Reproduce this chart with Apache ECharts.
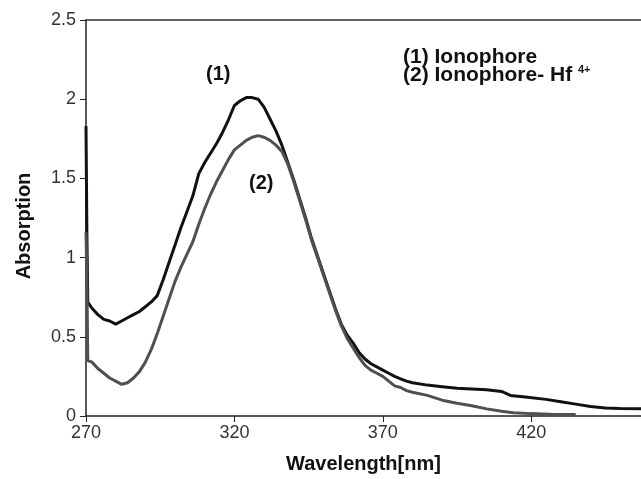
<!DOCTYPE html>
<html>
<head>
<meta charset="utf-8">
<script src="https://cdn.jsdelivr.net/npm/echarts@6/dist/echarts.min.js"></script>
<style>
  html, body { margin: 0; padding: 0; background: #fff; }
  #chart { width: 641px; height: 479px; }
</style>
</head>
<body>
<div id="chart"></div>
<script>
// curve (1) Ionophore
const wl1 = [270, 270.3, 270.6, 272, 274, 276, 278, 280, 282, 284, 286, 288, 290, 292, 294, 296, 298, 300,
  302, 304, 306, 308, 310, 312, 314, 316, 318, 320, 322, 324, 326, 328, 330, 332, 334, 336, 338, 340,
  342, 344, 346, 348, 350, 352, 354, 356, 358, 360, 362, 364, 366, 368, 370, 372, 374, 376, 378, 380,
  385, 390, 395, 400, 405, 410, 413, 418, 425, 430, 435, 440, 445, 450, 457]
const abs1 = [1.83, 1.15, 0.72, 0.68, 0.64, 0.61, 0.60, 0.58, 0.60, 0.62, 0.64, 0.66, 0.69, 0.72, 0.76, 0.86, 0.97, 1.08,
  1.19, 1.29, 1.39, 1.53, 1.60, 1.66, 1.72, 1.79, 1.87, 1.96, 1.99, 2.01, 2.01, 2.00, 1.95, 1.875, 1.80, 1.71, 1.60, 1.49,
  1.37, 1.25, 1.12, 1.01, 0.90, 0.79, 0.68, 0.58, 0.51, 0.46, 0.40, 0.36, 0.33, 0.31, 0.29, 0.27, 0.25, 0.235, 0.22, 0.21,
  0.195, 0.185, 0.175, 0.17, 0.165, 0.155, 0.13, 0.12, 0.105, 0.09, 0.075, 0.06, 0.05, 0.047, 0.045]

// curve (2) Ionophore- Hf4+
const wl2 = [270, 270.3, 270.6, 272, 274, 276, 278, 280, 282, 284, 286, 288, 290, 292, 294, 296, 298, 300,
  302, 304, 306, 308, 310, 312, 314, 316, 318, 320, 322, 324, 326, 328, 330, 332, 334, 336, 338, 340,
  342, 344, 346, 348, 350, 352, 354, 356, 358, 360, 362, 364, 366, 368, 370, 372, 374, 376, 378, 380,
  385, 390, 395, 400, 405, 410, 414, 420, 428, 435]
const abs2 = [1.16, 0.86, 0.35, 0.34, 0.30, 0.27, 0.24, 0.22, 0.20, 0.21, 0.24, 0.28, 0.34, 0.42, 0.52, 0.63, 0.74, 0.85,
  0.94, 1.02, 1.10, 1.21, 1.31, 1.40, 1.48, 1.55, 1.62, 1.68, 1.71, 1.74, 1.76, 1.77, 1.76, 1.74, 1.71, 1.67, 1.59, 1.48,
  1.36, 1.24, 1.11, 1.00, 0.89, 0.78, 0.67, 0.57, 0.49, 0.43, 0.37, 0.32, 0.29, 0.27, 0.25, 0.22, 0.19, 0.18, 0.16, 0.15,
  0.13, 0.10, 0.08, 0.065, 0.045, 0.03, 0.02, 0.015, 0.01, 0.01]

const xMin = 270, xMax = 457, xStep = 50
const yMin = 0, yMax = 2.5, yStep = 0.5

const FONT = 'Arial, "Liberation Sans", sans-serif'
const pairs = (xs, ys) => xs.map((x, i) => [x, ys[i]])

const chart = echarts.init(document.getElementById('chart'))
chart.setOption({
  animation: false,
  backgroundColor: '#fff',
  grid: { left: 86, right: 0, top: 20, bottom: 59 },
  xAxis: [{
    type: 'value',
    min: xMin,
    max: xMax,
    interval: xStep,
    name: 'Wavelength[nm]',
    nameLocation: 'middle',
    nameGap: 38,
    nameTextStyle: { fontFamily: FONT, fontWeight: 'bold', fontSize: 20, color: '#111' },
    splitLine: { show: false },
    axisLine: { lineStyle: { color: '#222', width: 1.5 } },
    axisTick: { length: 6, lineStyle: { color: '#222' } },
    axisLabel: { showMaxLabel: false, fontFamily: FONT, fontSize: 18, color: '#333', margin: 8 },
  }, {
    // top frame line
    type: 'value',
    position: 'top',
    min: xMin,
    max: xMax,
    axisLine: { show: true, lineStyle: { color: '#333', width: 1.5 } },
    axisTick: { show: false },
    axisLabel: { show: false },
    splitLine: { show: false },
  }],
  yAxis: {
    type: 'value',
    min: yMin,
    max: yMax,
    interval: yStep,
    name: 'Absorption',
    nameLocation: 'middle',
    nameGap: 52,
    // shifts the rotated name a little below the middle
    nameTextStyle: { fontFamily: FONT, fontWeight: 'bold', fontSize: 20, color: '#111', padding: [0, 16, 0, 0] },
    splitLine: { show: false },
    axisLine: { show: true, lineStyle: { color: '#222', width: 1.5 } },
    axisTick: { show: true, length: 6, lineStyle: { color: '#222' } },
    axisLabel: { fontFamily: FONT, fontSize: 18, color: '#333', margin: 10 },
  },
  graphic: [
    { type: 'text', left: 403, top: 47, style: { text: '(1) Ionophore', font: 'bold 21px ' + FONT, fill: '#111' } },
    { type: 'text', left: 403, top: 65, style: { text: '(2) Ionophore- Hf', font: 'bold 21px ' + FONT, fill: '#111' } },
    { type: 'text', left: 578, top: 64, style: { text: '4+', font: 'bold 11px ' + FONT, fill: '#111' } },
    { type: 'text', left: 206, top: 64, style: { text: '(1)', font: 'bold 20px ' + FONT, fill: '#111' } },
    { type: 'text', left: 249, top: 173, style: { text: '(2)', font: 'bold 20px ' + FONT, fill: '#111' } },
  ],
  series: [{
    name: '(1) Ionophore',
    type: 'line',
    xAxisIndex: 0,
    data: pairs(wl1, abs1),
    symbol: 'none',
    lineStyle: { color: '#111', width: 3 },
  }, {
    name: '(2) Ionophore- Hf4+',
    type: 'line',
    xAxisIndex: 0,
    data: pairs(wl2, abs2),
    symbol: 'none',
    lineStyle: { color: '#505050', width: 3 },
  }],
})
</script>
</body>
</html>
